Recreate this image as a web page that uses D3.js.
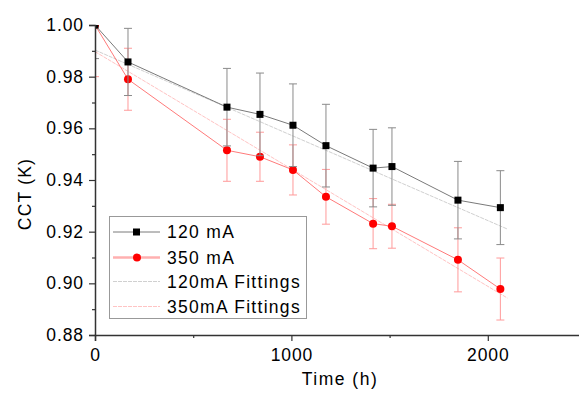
<!DOCTYPE html>
<html>
<head>
<meta charset="utf-8">
<script src="https://cdn.jsdelivr.net/npm/d3@7"></script>
<style>
  body { margin: 0; background: #fff; }
  text { font-family: Arial, "Liberation Sans", sans-serif; }
</style>
</head>
<body>
<div id="chart"></div>
<script>
// Data
const hours = [0, 168, 672, 840, 1008, 1176, 1416, 1512, 1848, 2064];
const cct120 = [1.000, 0.9857, 0.9682, 0.9654, 0.9612, 0.9533, 0.9446, 0.9452, 0.9322, 0.9293];
const err120 = [0.013, 0.013, 0.015, 0.016, 0.016, 0.016, 0.015, 0.015, 0.015, 0.0143];
const cct350 = [1.000, 0.979, 0.9515, 0.949, 0.9439, 0.9335, 0.9231, 0.9221, 0.9091, 0.8978];
const err350 = [0.02, 0.012, 0.012, 0.0095, 0.0097, 0.0106, 0.0097, 0.0085, 0.0124, 0.012];
// fitted lines, end points
const fit120 = [[0, 0.9903], [2100, 0.921]];
const fit350 = [[0, 0.9897], [2100, 0.8943]];
const yTicks = [0.88, 0.90, 0.92, 0.94, 0.96, 0.98, 1.00];
const yMinor = [0.89, 0.91, 0.93, 0.95, 0.97, 0.99];
const xTicks = [0, 1000, 2000];
const xMinor = [500, 1500];
const legendLabels = ["120 mA", "350 mA", "120mA Fittings", "350mA Fittings"];

const width = 579, height = 398;
const margin = { left: 95, top: 25, bottom: 335 };

const svg = d3.select("#chart").append("svg")
  .attr("width", width)
  .attr("height", height);

const x = d3.scaleLinear().domain([0, 2500]).range([margin.left, 586]);
const y = d3.scaleLinear().domain([0.88, 1.00]).range([margin.bottom, margin.top]);

svg.append("clipPath").attr("id", "plot")
  .append("rect")
  .attr("x", margin.left).attr("y", margin.top)
  .attr("width", width - margin.left).attr("height", margin.bottom - margin.top);

const plot = svg.append("g").attr("clip-path", "url(#plot)");

// fitting lines
const fitLine = d3.line().x(d => x(d[0])).y(d => y(d[1]));
plot.append("path").datum(fit120).attr("d", fitLine)
  .attr("fill", "none").attr("stroke", "#d0d0d0").attr("stroke-width", 1)
  .attr("stroke-dasharray", "4,1");
plot.append("path").datum(fit350).attr("d", fitLine)
  .attr("fill", "none").attr("stroke", "#ffc4c4").attr("stroke-width", 1)
  .attr("stroke-dasharray", "4,1");

function series(vals, errs, lineColor, errColor) {
  const pts = hours.map((h, i) => ({ h: h, v: vals[i], e: errs[i] }));
  const g = plot.append("g");
  // error bars
  const eb = g.selectAll(".eb").data(pts).enter().append("g");
  eb.append("line")
    .attr("x1", d => x(d.h)).attr("x2", d => x(d.h))
    .attr("y1", d => y(d.v + d.e)).attr("y2", d => y(d.v - d.e))
    .attr("stroke", errColor).attr("stroke-width", 1);
  [1, -1].forEach(s => {
    eb.append("line")
      .attr("x1", d => x(d.h) - 4).attr("x2", d => x(d.h) + 4)
      .attr("y1", d => y(d.v + s * d.e)).attr("y2", d => y(d.v + s * d.e))
      .attr("stroke", errColor).attr("stroke-width", 1);
  });
  g.append("path").datum(pts)
    .attr("d", d3.line().x(d => x(d.h)).y(d => y(d.v)))
    .attr("fill", "none").attr("stroke", lineColor).attr("stroke-width", 1);
  return { g: g, pts: pts };
}

// 350 mA first so 120 mA sits above it like in the original
const s350 = series(cct350, err350, "#ff7a7a", "#ff9a9a");
const s120 = series(cct120, err120, "#7a7a7a", "#8a8a8a");

s350.g.selectAll(".dot").data(s350.pts).enter().append("circle")
  .attr("cx", d => x(d.h)).attr("cy", d => y(d.v)).attr("r", 4)
  .attr("fill", "#ff0000");
s120.g.selectAll(".sq").data(s120.pts).enter().append("rect")
  .attr("x", d => x(d.h) - 3.5).attr("y", d => y(d.v) - 3.5)
  .attr("width", 7).attr("height", 7)
  .attr("fill", "#000");

// axes
const axisColor = "#333";
svg.append("g")
  .attr("transform", `translate(${margin.left},0)`)
  .call(d3.axisLeft(y).tickValues(yTicks).tickFormat(d3.format(".2f")).tickSize(6).tickPadding(5));
svg.append("g")
  .attr("transform", `translate(${margin.left},0)`)
  .call(d3.axisLeft(y).tickValues(yMinor).tickFormat("").tickSize(3))
  .call(g => g.select(".domain").remove());

svg.append("g")
  .attr("transform", `translate(0,${margin.bottom})`)
  .call(d3.axisBottom(x).tickValues(xTicks).tickFormat(d3.format("d")).tickSize(6).tickPadding(8));
svg.append("g")
  .attr("transform", `translate(0,${margin.bottom})`)
  .call(d3.axisBottom(x).tickValues(xMinor).tickFormat("").tickSize(3))
  .call(g => g.select(".domain").remove());

svg.selectAll(".domain").attr("stroke", axisColor).attr("stroke-width", 1.5);
svg.selectAll(".tick line").attr("stroke", axisColor).attr("stroke-width", 1.2);
svg.selectAll(".tick text").attr("fill", "#000")
  .style("font-size", "17.5px")
  .style("letter-spacing", "0.9px")
  .style("font-family", "Arial, 'Liberation Sans', sans-serif");

// axis titles
svg.append("text")
  .attr("x", 340).attr("y", 385)
  .attr("text-anchor", "middle")
  .style("font-size", "17.5px")
  .style("letter-spacing", "1.5px")
  .text("Time (h)");
svg.append("text")
  .attr("transform", "translate(31,194) rotate(-90)")
  .attr("text-anchor", "middle")
  .style("font-size", "17.5px")
  .style("letter-spacing", "1.2px")
  .text("CCT (K)");

// legend
const legend = svg.append("g");
legend.append("rect")
  .attr("x", 109.5).attr("y", 216.5).attr("width", 197).attr("height", 102)
  .attr("fill", "#fff").attr("stroke", "#999").attr("stroke-width", 1);
const rowY = [232, 257.5, 281.5, 306.5];
const legendStyles = [
  { stroke: "#7a7a7a", w: 1, dash: null, mark: "sq" },
  { stroke: "#ffb0b0", w: 2.5, dash: null, mark: "dot" },
  { stroke: "#d0d0d0", w: 1, dash: "4,1", mark: null },
  { stroke: "#ffc4c4", w: 1, dash: "4,1", mark: null }
];
const rows = legend.selectAll(".row").data(legendLabels).enter().append("g")
  .attr("transform", (d, i) => `translate(0,${rowY[i]})`);
rows.append("line")
  .attr("x1", 113).attr("x2", 160).attr("y1", 0).attr("y2", 0)
  .attr("stroke", (d, i) => legendStyles[i].stroke)
  .attr("stroke-width", (d, i) => legendStyles[i].w)
  .attr("stroke-dasharray", (d, i) => legendStyles[i].dash);
rows.filter((d, i) => legendStyles[i].mark === "sq").append("rect")
  .attr("x", 133).attr("y", -3.5).attr("width", 7).attr("height", 7).attr("fill", "#000");
rows.filter((d, i) => legendStyles[i].mark === "dot").append("circle")
  .attr("cx", 137).attr("cy", 0).attr("r", 4).attr("fill", "#ff0000");
rows.append("text")
  .attr("x", 167).attr("y", 6.3)
  .style("font-size", "17.5px")
  .style("letter-spacing", "1.3px")
  .text(d => d);
</script>
</body>
</html>
